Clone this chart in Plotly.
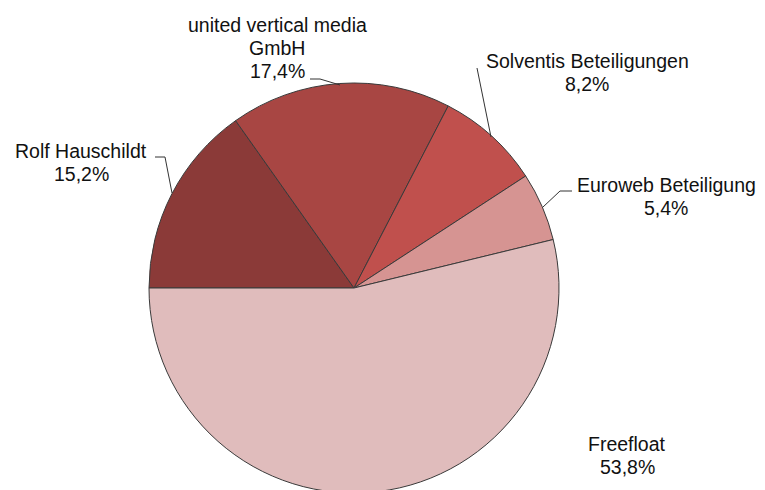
import plotly.graph_objects as go

labels = ["Rolf Hauschildt", "united vertical media GmbH", "Solventis Beteiligungen",
          "Euroweb Beteiligung", "Freefloat"]
values = [15.2, 17.4, 8.2, 5.4, 53.8]
value_text = ["15,2%", "17,4%", "8,2%", "5,4%", "53,8%"]
label_lines = [["Rolf Hauschildt"], ["united vertical media", "GmbH"],
               ["Solventis Beteiligungen"], ["Euroweb Beteiligung"], ["Freefloat"]]
colors = ["#8B3A38", "#A84643", "#C0504D", "#D69492", "#E0BCBC"]

W, H = 765, 490
OFF = 8  # page body margin offset
cx, cy, r = 354 - OFF, 288 - OFF, 205  # pixels from top-left of figure

# label anchor centers (screen px) of first line, line spacing
label_pos = [(81, 151), (277, 25), (587, 61), (666, 185), (627, 444)]
line_gap = 23
leaders = [
    [(155, 157), (165, 157), (172, 193)],
    [(310, 79), (320, 79), (340, 85)],
    [(477, 68), (491, 137)],
    [(572, 191), (560, 191), (543, 207)],
    None,
]

fig = go.Figure(go.Pie(
    labels=labels, values=values, sort=False, direction="clockwise", rotation=270,
    marker=dict(colors=colors, line=dict(color="#3a3a3a", width=1)),
    textinfo="none", hoverinfo="label+percent", showlegend=False,
    domain=dict(x=[(cx - r) / W, (cx + r) / W], y=[(H - cy - r) / H, (H - cy + r) / H]),
))

def px(x, y):
    return (x - OFF) / W, 1 - (y - OFF) / H

annotations = []
for lines, vt, (lx, ly) in zip(label_lines, value_text, label_pos):
    for i, t in enumerate(lines + [vt]):
        ax, ay = px(lx, ly + i * line_gap)
        annotations.append(dict(x=ax, y=ay, xref="paper", yref="paper", text=t,
                                showarrow=False, xanchor="center", yanchor="middle",
                                font=dict(family="Liberation Sans, Arial", size=19.5, color="#111111")))

shapes = []
for pts in leaders:
    if not pts:
        continue
    path = "M " + " L ".join(f"{px(x, y)[0]},{px(x, y)[1]}" for x, y in pts)
    shapes.append(dict(type="path", path=path, xref="paper", yref="paper",
                       line=dict(color="#333333", width=1)))

fig.update_layout(width=W, height=H, margin=dict(l=0, r=0, t=0, b=0),
                  paper_bgcolor="white", plot_bgcolor="white",
                  annotations=annotations, shapes=shapes)
fig.write_html("out.html")
